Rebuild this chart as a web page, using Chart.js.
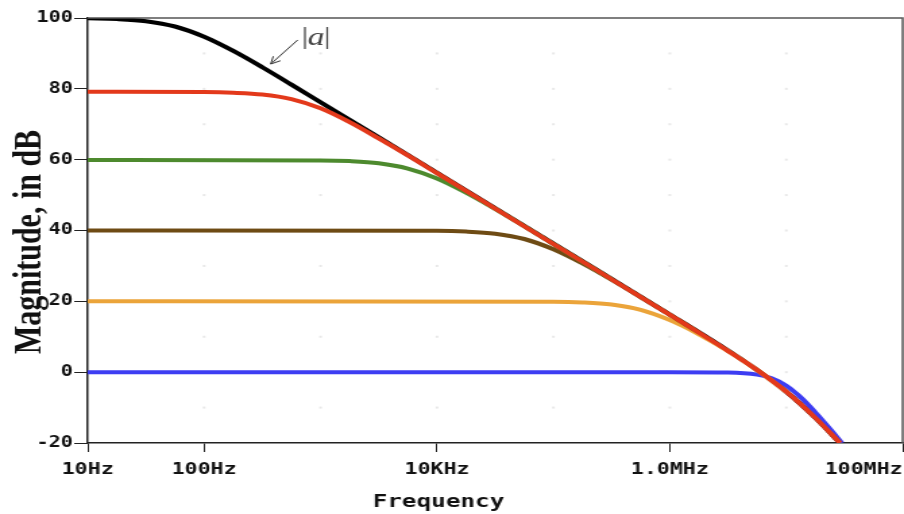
<!DOCTYPE html>
<html>
<head>
<meta charset="utf-8">
<script src="https://cdn.jsdelivr.net/npm/chart.js@4.4.1/dist/chart.umd.min.js"></script>
<style>
  html, body { margin: 0; padding: 0; background: #fff; overflow: hidden; }
  #bode { display: block; }
</style>
</head>
<body>
<!-- drawn narrow and stretched wide, like the original plot -->
<canvas id="bode" width="670" height="514" style="width:904px;height:514px"></canvas>
<script>
// axis ticks
const xTicks = [10, 100, 1e4, 1e6, 1e8];
const xTickLabels = ['10Hz', '100Hz', '10KHz', '1.0MHz', '100MHz      '];
const yTicks = [-20, 0, 20, 40, 60, 80, 100];

// open loop gain |a|
const aHz = [10, 17.8, 31.6, 56.2, 100, 178, 316, 562, 1000, 3162, 1e4, 1e5, 1e6, 3.16e6, 5.62e6, 1e7, 1.78e7, 2.9e7];
const aDb = [99.9, 99.7, 99.1, 97.6, 94.7, 90.7, 86.1, 81.2, 76.2, 66.3, 56.3, 36.3, 16.3, 6.1, 0.6, -5.5, -12.9, -20];

// closed loop, 80 dB
const r80Hz = [10, 100, 178, 316, 562, 1000, 1778, 3162, 5623, 1e4, 1e5, 1e6, 3.16e6, 5.62e6, 1e7, 1.78e7, 2.9e7];
const r80Db = [79.2, 79.1, 78.9, 78.4, 77.1, 74.5, 70.6, 66.0, 61.2, 56.2, 36.2, 16.2, 6.0, 0.6, -5.5, -12.9, -20];

// closed loop, 60 dB
const g60Hz = [10, 1000, 1778, 3162, 5623, 1e4, 17783, 31623, 56234, 1e5, 3.16e5];
const g60Db = [59.9, 59.8, 59.6, 59.0, 57.5, 54.7, 50.7, 46.1, 41.2, 36.2, 26.2];

// closed loop, 40 dB
const b40Hz = [10, 1e4, 17783, 31623, 56234, 1e5, 177828, 316228, 562341, 1e6, 1.78e6];
const b40Db = [40.0, 39.9, 39.7, 39.1, 37.6, 34.7, 30.7, 26.1, 21.2, 16.2, 11.2];

// closed loop, 20 dB
const o20Hz = [10, 1e5, 177828, 316228, 562341, 1e6, 1.78e6, 3.16e6, 5.62e6, 1e7];
const o20Db = [20.0, 19.9, 19.7, 19.1, 17.6, 14.7, 10.7, 6.0, 0.6, -5.5];

// closed loop, 0 dB (follower)
const u0Hz = [10, 1e6, 3.16e6, 5.62e6, 7.5e6, 1e7, 1.33e7, 1.78e7, 2.37e7, 3.0e7];
const u0Db = [0, 0, -0.1, -0.7, -1.7, -3.8, -7.1, -11.4, -16.0, -20];

// "|a|" label and arrow, in data units
const labelAt = {x: 689, y: 94.6};
const arrowFrom = {x: 637, y: 93.8};
const arrowTo = {x: 373, y: 87.0};

const xTitle = 'Frequency';
const yTitle = 'Magnitude, in dB';

const pts = (hz, db) => hz.map((f, i) => ({x: f, y: db[i]}));

function curve(data, color, order) {
    return {
        data: data,
        borderColor: color,
        borderWidth: 4,
        pointRadius: 0,
        cubicInterpolationMode: 'monotone',
        fill: false,
        order: order
    };
}

const extras = {
    id: 'extras',
    beforeDatasetsDraw(chart) {
        // faint dots where the grid would be
        const {ctx, scales: {x, y}} = chart;
        ctx.save();
        ctx.fillStyle = '#e8e8e8';
        for (let f = 100; f < 1e8; f *= 10) {
            for (let d = -10; d < 100; d += 10) {
                ctx.fillRect(x.getPixelForValue(f) - 1, y.getPixelForValue(d) - 1, 2, 2);
            }
        }
        ctx.restore();
    },
    afterDraw(chart) {
        const {ctx, chartArea: a, scales: {x, y}} = chart;
        ctx.save();
        // top and right frame
        ctx.strokeStyle = '#555';
        ctx.lineWidth = 1.5;
        ctx.beginPath();
        ctx.moveTo(a.left, a.top);
        ctx.lineTo(a.right, a.top);
        ctx.lineTo(a.right, a.bottom);
        ctx.stroke();

        // axis titles
        ctx.fillStyle = '#111';
        ctx.textAlign = 'center';
        ctx.textBaseline = 'alphabetic';
        ctx.font = 'bold 18px "DejaVu Sans Mono"';
        ctx.fillText(xTitle, x.getPixelForValue(1.03e4), 507);

        ctx.save();
        ctx.translate(30, 242);
        ctx.rotate(-Math.PI / 2);
        ctx.font = 'bold 30px "Liberation Serif"';
        ctx.fillText(yTitle, 0, 0);
        ctx.restore();

        // |a| annotation
        const tx = x.getPixelForValue(labelAt.x);
        const ty = y.getPixelForValue(labelAt.y);
        ctx.fillStyle = '#444';
        ctx.textAlign = 'left';
        ctx.textBaseline = 'middle';
        ctx.font = '25px "Liberation Serif"';
        ctx.fillText('|', tx, ty);
        ctx.font = 'italic 25px "Liberation Serif"';
        ctx.fillText('a', tx + 4.5, ty + 1);
        ctx.font = '25px "Liberation Serif"';
        ctx.fillText('|', tx + 16.5, ty);

        const x0 = x.getPixelForValue(arrowFrom.x), y0 = y.getPixelForValue(arrowFrom.y);
        const x1 = x.getPixelForValue(arrowTo.x), y1 = y.getPixelForValue(arrowTo.y);
        const ang = Math.atan2(y1 - y0, x1 - x0);
        ctx.strokeStyle = '#333';
        ctx.lineWidth = 1;
        ctx.beginPath();
        ctx.moveTo(x0, y0);
        ctx.lineTo(x1, y1);
        for (const s of [-0.45, 0.45]) {
            ctx.moveTo(x1, y1);
            ctx.lineTo(x1 - 8 * Math.cos(ang + s), y1 - 8 * Math.sin(ang + s));
        }
        ctx.stroke();
        ctx.restore();
    }
};

const ctx = document.getElementById('bode').getContext('2d');

const bodeChart = new Chart(ctx, {
    type: 'line',
    data: {
        datasets: [
            curve(pts(aHz, aDb), '#000000', 5),
            curve(pts(u0Hz, u0Db), '#3d3df2', 4),
            curve(pts(o20Hz, o20Db), '#eba43a', 3),
            curve(pts(b40Hz, b40Db), '#6e4b14', 2),
            curve(pts(g60Hz, g60Db), '#4d8a2e', 1),
            curve(pts(r80Hz, r80Db), '#e3391b', 0)
        ]
    },
    options: {
        responsive: false,
        animation: false,
        devicePixelRatio: 1,
        layout: {
            autoPadding: false,
            padding: {top: 18, right: 1, left: 0, bottom: 0}
        },
        plugins: {
            legend: {display: false},
            tooltip: {enabled: false}
        },
        scales: {
            x: {
                type: 'logarithmic',
                min: 10,
                max: 1e8,
                afterBuildTicks: (scale) => {
                    scale.ticks = xTicks.map(v => ({value: v}));
                },
                afterFit: (scale) => {
                    scale.height = 71;
                    scale.paddingLeft = 0;
                    scale.paddingRight = 0;
                },
                ticks: {
                    autoSkip: false,
                    maxRotation: 0,
                    padding: 8,
                    color: '#111',
                    font: {family: 'DejaVu Sans Mono', size: 16, weight: 'bold'},
                    callback: (value) => {
                        const i = xTicks.indexOf(value);
                        return i >= 0 ? xTickLabels[i] : '';
                    }
                },
                grid: {
                    drawOnChartArea: false,
                    tickLength: 9,
                    color: '#222'
                },
                border: {color: '#222', width: 1.5}
            },
            y: {
                min: -20,
                max: 100,
                afterBuildTicks: (scale) => {
                    scale.ticks = yTicks.map(v => ({value: v}));
                },
                afterFit: (scale) => {
                    scale.width = 65;
                    scale.paddingTop = 0;
                    scale.paddingBottom = 0;
                },
                ticks: {
                    padding: 1,
                    color: '#111',
                    font: {family: 'DejaVu Sans Mono', size: 15, weight: 'bold'}
                },
                grid: {
                    drawOnChartArea: false,
                    tickLength: 10,
                    color: '#222'
                },
                border: {color: '#222', width: 1.5}
            }
        }
    },
    plugins: [extras]
});
</script>
</body>
</html>
